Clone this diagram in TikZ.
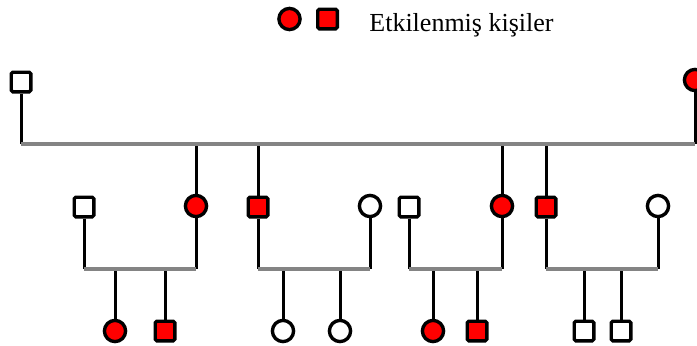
\documentclass[tikz,border=0pt]{standalone}
\usepackage{fontspec}
\setmainfont{Liberation Serif}
\definecolor{affected}{RGB}{255,0,0}
\definecolor{mategray}{RGB}{132,132,132}

\begin{document}
\begin{tikzpicture}[
			x=0.5pt, y=-0.5pt,
			person/.style={draw, line width=1.7pt, inner sep=0pt},
			male/.style={person, rectangle, minimum size=9.8pt, rounded corners=0.8pt},
			female/.style={person, circle, minimum size=10.6pt},
			ill/.style={fill=affected},
			well/.style={fill=white},
			drop/.style={draw=black, line width=1.5pt},
			mate/.style={draw=mategray, line width=1.6pt}
		]
		\useasboundingbox (0,0) rectangle (697,345);

		% legend
		\node[female,ill] (keyf) at (289.5,19) {};
		\node[male,ill] (keym) at (327.5,19) {};
		\node[anchor=base west, inner sep=0pt, font=\fontsize{13pt}{15pt}\selectfont] (keytext) at (369,31) {Etkilenmiş kişiler};

		% first generation
		\node[male,well] (gf) at (21,82) {};
		\node[female,ill] (gm) at (695,80) {};
		\coordinate (gfj) at (21,144);
		\coordinate (gmj) at (695,144);
		\coordinate (c1) at (196,144);
		\coordinate (c2) at (258,144);
		\coordinate (c3) at (502,144);
		\coordinate (c4) at (546,144);

		% second generation
		\node[male,well] (s1) at (84,207) {};
		\node[female,ill] (d1) at (196,206) {};
		\node[male,ill] (d2) at (258,207) {};
		\node[female,well] (s2) at (370,206) {};
		\node[male,well] (s3) at (409,207) {};
		\node[female,ill] (d3) at (502,206) {};
		\node[male,ill] (d4) at (546,207) {};
		\node[female,well] (s4) at (658,206) {};

		% couple lines
		\coordinate (s1j) at (84,269);  \coordinate (d1j) at (196,269);
		\coordinate (d2j) at (258,269); \coordinate (s2j) at (370,269);
		\coordinate (s3j) at (409,269); \coordinate (d3j) at (502,269);
		\coordinate (d4j) at (546,269); \coordinate (s4j) at (658,269);
		\coordinate (k1j) at (115,269); \coordinate (k2j) at (165,269);
		\coordinate (k3j) at (283,269); \coordinate (k4j) at (340,269);
		\coordinate (k5j) at (433,269); \coordinate (k6j) at (477,269);
		\coordinate (k7j) at (584,269); \coordinate (k8j) at (621,269);

		% third generation
		\node[female,ill] (k1) at (115,331) {};
		\node[male,ill] (k2) at (165,331) {};
		\node[female,well] (k3) at (283,331) {};
		\node[female,well] (k4) at (340,331) {};
		\node[female,ill] (k5) at (433,331) {};
		\node[male,ill] (k6) at (477,331) {};
		\node[male,well] (k7) at (584,331) {};
		\node[male,well] (k8) at (621,331) {};

		% descent lines
		\draw[drop] (gf) -- (gfj);
		\draw[drop] (gm) -- (gmj);
		\draw[drop] (c1) -- (d1);
		\draw[drop] (c2) -- (d2);
		\draw[drop] (c3) -- (d3);
		\draw[drop] (c4) -- (d4);
		\draw[drop] (s1) -- (s1j);
		\draw[drop] (d1) -- (d1j);
		\draw[drop] (d2) -- (d2j);
		\draw[drop] (s2) -- (s2j);
		\draw[drop] (s3) -- (s3j);
		\draw[drop] (d3) -- (d3j);
		\draw[drop] (d4) -- (d4j);
		\draw[drop] (s4) -- (s4j);
		\draw[drop] (k1j) -- (k1);
		\draw[drop] (k2j) -- (k2);
		\draw[drop] (k3j) -- (k3);
		\draw[drop] (k4j) -- (k4);
		\draw[drop] (k5j) -- (k5);
		\draw[drop] (k6j) -- (k6);
		\draw[drop] (k7j) -- (k7);
		\draw[drop] (k8j) -- (k8);

		% mating lines on top
		\draw[mate] (gfj) -- (gmj);
		\draw[mate] (s1j) -- (d1j);
		\draw[mate] (d2j) -- (s2j);
		\draw[mate] (s3j) -- (d3j);
		\draw[mate] (d4j) -- (s4j);
	\end{tikzpicture}
\end{document}
